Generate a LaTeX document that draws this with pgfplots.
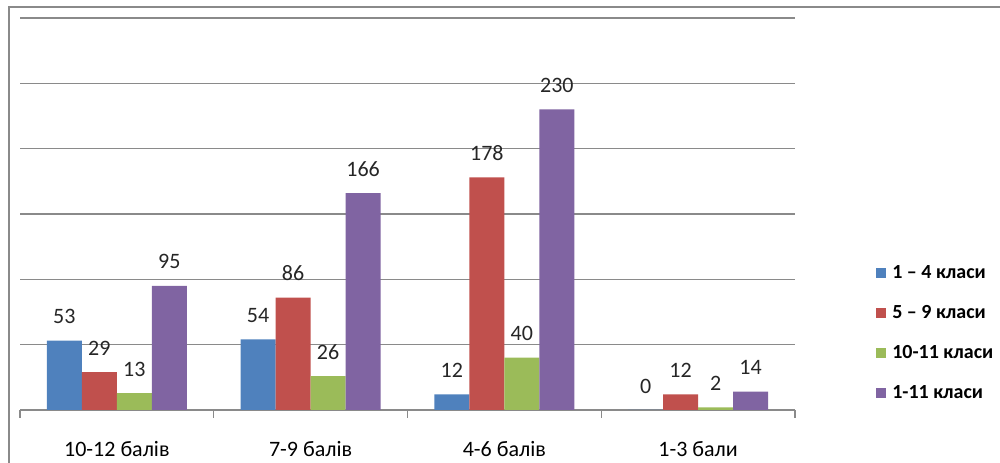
\documentclass[border=0pt]{standalone}
\usepackage{pgfplots}
\pgfplotsset{compat=1.18}
\usepackage{fontspec}
\setmainfont{Carlito}
\definecolor{cBlue}{HTML}{4F81BD}
\definecolor{cRed}{HTML}{C0504D}
\definecolor{cGreen}{HTML}{9BBB59}
\definecolor{cPurple}{HTML}{8064A2}
\definecolor{gridc}{HTML}{8A8A8A}
\begin{document}
\begin{tikzpicture}
\useasboundingbox (0,0) rectangle (750pt,347.25pt);
\draw[gridc, line width=1.5pt] (6.75pt,0) -- (6.75pt,342pt) -- (750pt,342pt);
\begin{axis}[
  at={(15pt,39.75pt)}, anchor=south west,
  scale only axis, width=581.25pt, height=294pt,
  ybar=0pt, bar width=26.25pt,
  xmin=-0.5, xmax=3.5, ymin=0, ymax=300,
  /pgf/number format/assume math mode=true,
  xtick={0,1,2,3},
  xticklabels={10-12 балів,7-9 балів,4-6 балів,1-3 бали},
  minor xtick={-0.5,0.5,1.5,2.5,3.5},
  major tick length=0pt,
  minor tick length=6pt,
  tick align=outside,
  xticklabel style={font=\fontsize{16.5}{19}\selectfont, inner sep=0pt, anchor=north, yshift=-23.5pt},
  ytick={0,50,...,300}, yticklabels={},
  ymajorgrids, grid style={gridc, line width=0.8pt},
  separate axis lines,
  axis x line*=bottom, axis y line*=left,
  x axis line style={gridc, line width=0.8pt, -},
  y axis line style={draw=none},
  minor tick style={gridc, line width=0.8pt},
  nodes near coords,
  every node near coord/.append style={font=\fontsize{16.5}{19}\selectfont, color=black!85, yshift=9pt},
  legend style={at={(1.1045,0.375)}, anchor=north west, draw=none, fill=none,
    font=\fontsize{15}{18}\selectfont\bfseries, row sep=14.6pt, inner sep=0pt,
    legend cell align=left},
  legend image code/.code={\fill[#1] (0pt,-3.75pt) rectangle (7.5pt,3.75pt); \path (10pt,0pt);},
]
\addplot[fill=cBlue, draw=none] coordinates {(0,53) (1,54) (2,12) (3,0)};
\addplot[fill=cRed, draw=none] coordinates {(0,29) (1,86) (2,178) (3,12)};
\addplot[fill=cGreen, draw=none] coordinates {(0,13) (1,26) (2,40) (3,2)};
\addplot[fill=cPurple, draw=none] coordinates {(0,95) (1,166) (2,230) (3,14)};
\legend{1 – 4 класи, 5 – 9 класи, 10-11 класи, 1-11 класи}
\end{axis}
\end{tikzpicture}
\end{document}
